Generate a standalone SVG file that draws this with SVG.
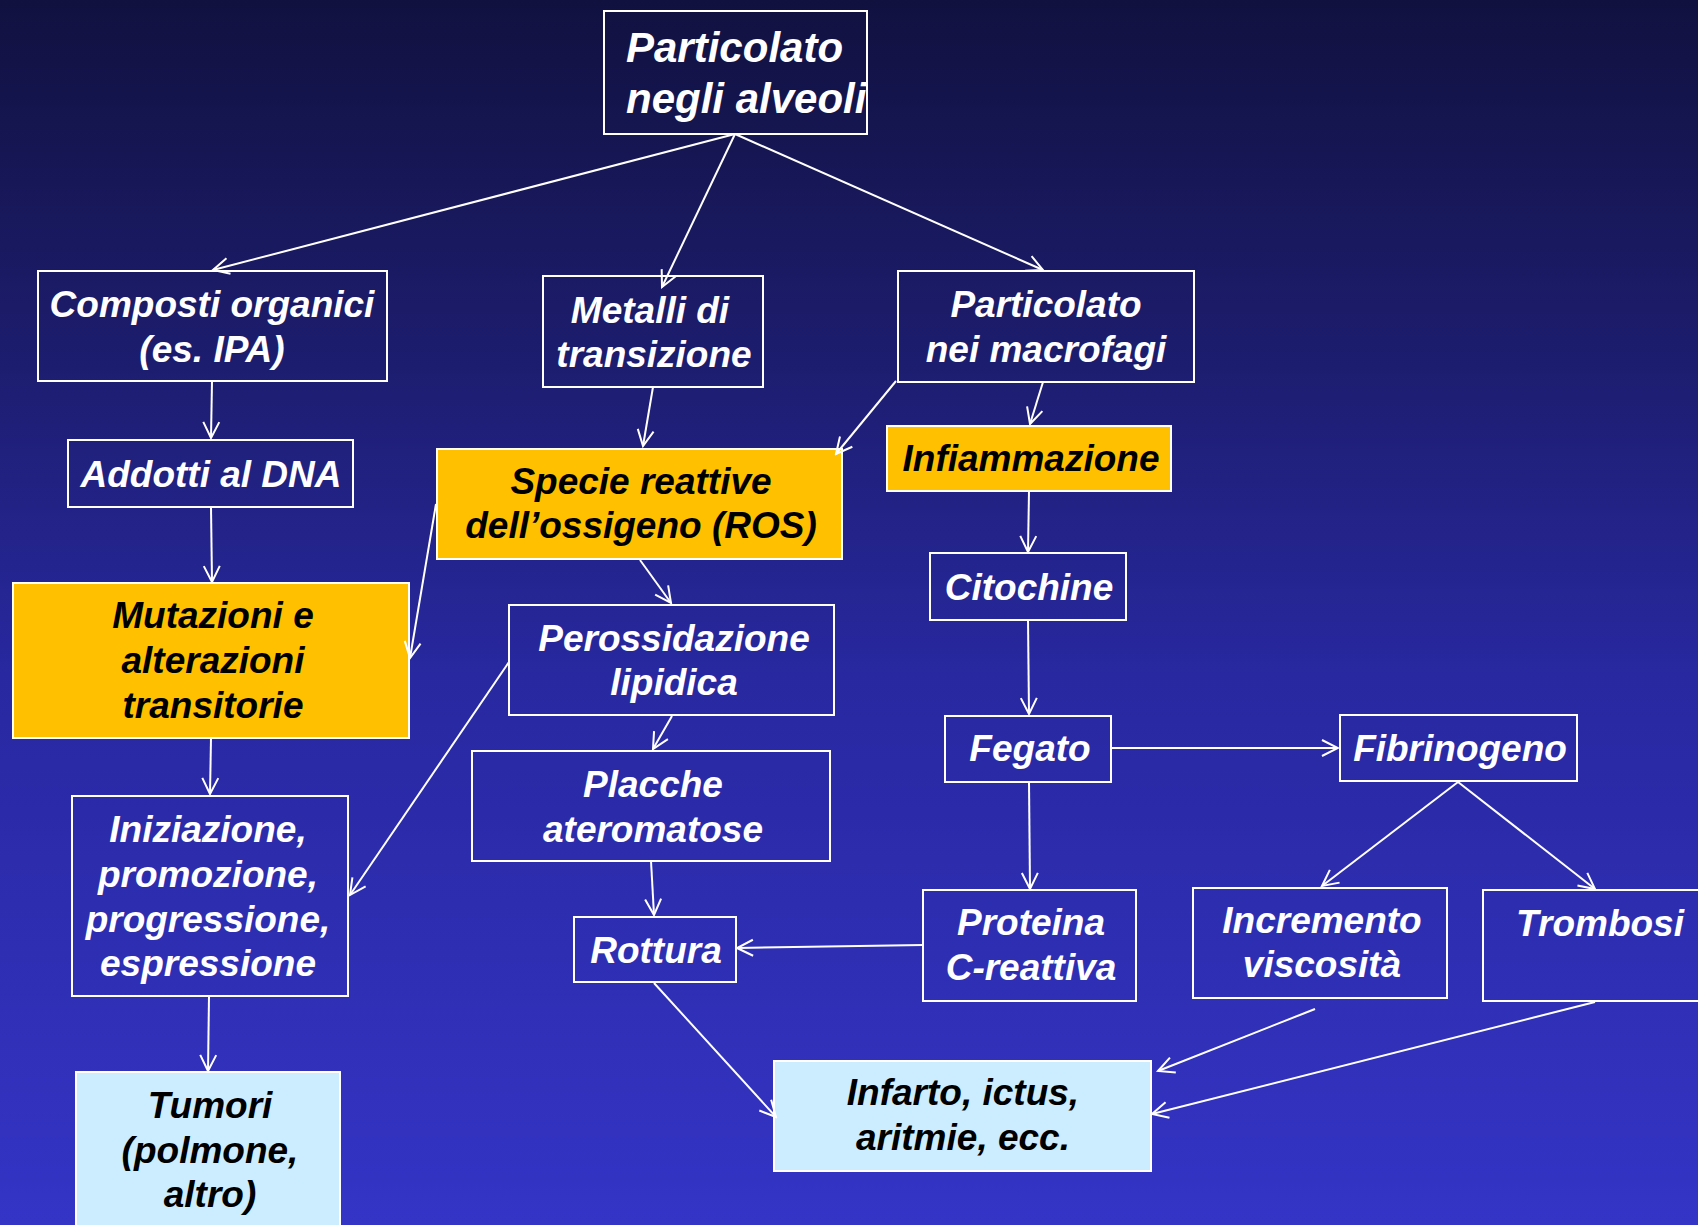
<svg xmlns="http://www.w3.org/2000/svg" width="1698" height="1225" viewBox="0 0 1698 1225">
<defs>
<linearGradient id="bg" x1="0" y1="0" x2="0" y2="1">
<stop offset="0" stop-color="#111140"/>
<stop offset="0.3" stop-color="#1d1d70"/>
<stop offset="0.55" stop-color="#2828a0"/>
<stop offset="1" stop-color="#3434c6"/>
</linearGradient>
<marker id="arr" markerUnits="userSpaceOnUse" markerWidth="20" markerHeight="20" viewBox="0 0 20 20" refX="18" refY="10" orient="auto">
<path d="M2,2 L18,10 L2,18" fill="none" stroke="#ffffff" stroke-width="2"/>
</marker>
<style>
.box{fill:none;stroke:#ffffff;stroke-width:2}
.org{fill:#ffc000;stroke:#ffffff;stroke-width:2}
.lb{fill:#ccecff;stroke:#ffffff;stroke-width:2}
.t{font-family:"Liberation Sans",Arial,sans-serif;font-weight:bold;font-style:italic;font-size:37px;fill:#ffffff;text-anchor:middle}
.d{fill:#000000}
.big{font-size:42px;text-anchor:start}
.c line{stroke:#ffffff;stroke-width:2;marker-end:url(#arr)}
</style>
</defs>
<rect x="0" y="0" width="1698" height="1225" fill="url(#bg)"/>

<g id="n-particolato-alveoli">
<rect class="box" x="604" y="11" width="263" height="123"/>
<text class="t big" x="626" y="62">Particolato</text>
<text class="t big" x="626" y="113">negli alveoli</text>
</g>
<g id="n-composti">
<rect class="box" x="38" y="271" width="349" height="110"/>
<text class="t" x="212" y="317">Composti organici</text>
<text class="t" x="212" y="362">(es. IPA)</text>
</g>
<g id="n-metalli">
<rect class="box" x="543" y="276" width="220" height="111"/>
<text class="t" x="650" y="323">Metalli di</text>
<text class="t" x="654" y="367">transizione</text>
</g>
<g id="n-macrofagi">
<rect class="box" x="898" y="271" width="296" height="111"/>
<text class="t" x="1046" y="317">Particolato</text>
<text class="t" x="1046" y="362">nei macrofagi</text>
</g>
<g id="n-addotti">
<rect class="box" x="68" y="440" width="285" height="67"/>
<text class="t" x="211" y="487">Addotti al DNA</text>
</g>
<g id="n-ros">
<rect class="org" x="437" y="449" width="405" height="110"/>
<text class="t d" x="641" y="494">Specie reattive</text>
<text class="t d" x="641" y="538">dell’ossigeno (ROS)</text>
</g>
<g id="n-infiammazione">
<rect class="org" x="887" y="426" width="284" height="65"/>
<text class="t d" x="1031" y="471">Infiammazione</text>
</g>
<g id="n-mutazioni">
<rect class="org" x="13" y="583" width="396" height="155"/>
<text class="t d" x="213" y="628">Mutazioni e</text>
<text class="t d" x="213" y="673">alterazioni</text>
<text class="t d" x="213" y="718">transitorie</text>
</g>
<g id="n-citochine">
<rect class="box" x="930" y="553" width="196" height="67"/>
<text class="t" x="1029" y="600">Citochine</text>
</g>
<g id="n-perossidazione">
<rect class="box" x="509" y="605" width="325" height="110"/>
<text class="t" x="674" y="651">Perossidazione</text>
<text class="t" x="674" y="695">lipidica</text>
</g>
<g id="n-placche">
<rect class="box" x="472" y="751" width="358" height="110"/>
<text class="t" x="653" y="797">Placche</text>
<text class="t" x="653" y="842">ateromatose</text>
</g>
<g id="n-iniziazione">
<rect class="box" x="72" y="796" width="276" height="200"/>
<text class="t" x="208" y="842">Iniziazione,</text>
<text class="t" x="208" y="887">promozione,</text>
<text class="t" x="208" y="932">progressione,</text>
<text class="t" x="208" y="976">espressione</text>
</g>
<g id="n-fegato">
<rect class="box" x="945" y="716" width="166" height="66"/>
<text class="t" x="1030" y="761">Fegato</text>
</g>
<g id="n-fibrinogeno">
<rect class="box" x="1340" y="715" width="237" height="66"/>
<text class="t" x="1460" y="761">Fibrinogeno</text>
</g>
<g id="n-rottura">
<rect class="box" x="574" y="917" width="162" height="65"/>
<text class="t" x="656" y="963">Rottura</text>
</g>
<g id="n-proteina">
<rect class="box" x="923" y="890" width="213" height="111"/>
<text class="t" x="1031" y="935">Proteina</text>
<text class="t" x="1031" y="980">C-reattiva</text>
</g>
<g id="n-incremento">
<rect class="box" x="1193" y="888" width="254" height="110"/>
<text class="t" x="1322" y="933">Incremento</text>
<text class="t" x="1322" y="977">viscosità</text>
</g>
<g id="n-trombosi">
<rect class="box" x="1483" y="890" width="240" height="111"/>
<text class="t" x="1600" y="936">Trombosi</text>
</g>
<g id="n-tumori">
<rect class="lb" x="76" y="1072" width="264" height="170"/>
<text class="t d" x="210" y="1118">Tumori</text>
<text class="t d" x="210" y="1163">(polmone,</text>
<text class="t d" x="210" y="1207">altro)</text>
</g>
<g id="n-infarto">
<rect class="lb" x="774" y="1061" width="377" height="110"/>
<text class="t d" x="963" y="1105">Infarto, ictus,</text>
<text class="t d" x="963" y="1150">aritmie, ecc.</text>
</g>

<g id="connectors" class="c">
<line x1="735" y1="134" x2="213" y2="270"/>
<line x1="735" y1="134" x2="662" y2="287"/>
<line x1="735" y1="134" x2="1043" y2="270"/>
<line x1="212" y1="381" x2="211" y2="438"/>
<line x1="653" y1="387" x2="643" y2="446"/>
<line x1="896" y1="381" x2="836" y2="454"/>
<line x1="1043" y1="382" x2="1030" y2="424"/>
<line x1="211" y1="507" x2="212" y2="582"/>
<line x1="436" y1="504" x2="410" y2="658"/>
<line x1="640" y1="560" x2="671" y2="603"/>
<line x1="1029" y1="491" x2="1028" y2="552"/>
<line x1="1028" y1="620" x2="1029" y2="714"/>
<line x1="211" y1="738" x2="210" y2="794"/>
<line x1="509" y1="662" x2="350" y2="895"/>
<line x1="672" y1="716" x2="653" y2="749"/>
<line x1="1111" y1="748" x2="1338" y2="748"/>
<line x1="1029" y1="782" x2="1030" y2="889"/>
<line x1="651" y1="861" x2="654" y2="915"/>
<line x1="923" y1="945" x2="737" y2="948"/>
<line x1="1458" y1="782" x2="1322" y2="886"/>
<line x1="1458" y1="782" x2="1595" y2="889"/>
<line x1="654" y1="983" x2="776" y2="1117"/>
<line x1="1315" y1="1009" x2="1158" y2="1071"/>
<line x1="1595" y1="1002" x2="1152" y2="1114"/>
<line x1="209" y1="996" x2="208" y2="1071"/>
</g>
</svg>
